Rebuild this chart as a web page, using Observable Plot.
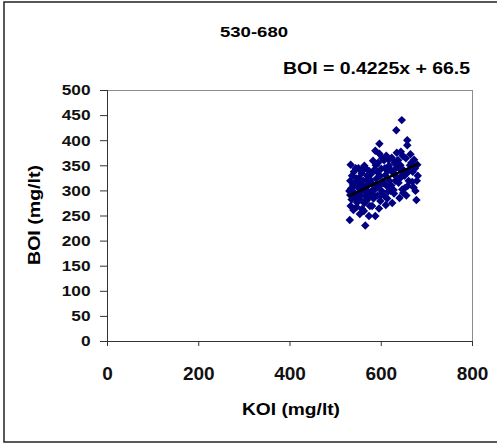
<!DOCTYPE html>
<html>
<head>
<meta charset="utf-8">
<script src="https://cdn.jsdelivr.net/npm/d3@7"></script>
<script src="https://cdn.jsdelivr.net/npm/@observablehq/plot@0.6"></script>
<style>
  html, body { margin: 0; padding: 0; background: #fff; }
  #chart { width: 497px; height: 446px; overflow: hidden; }
</style>
</head>
<body>
<div id="chart"></div>
<script>
// ---- data ----
const title = "530-680";
const equationText = "BOI = 0.4225x + 66.5";
const slope = 0.4225;
const intercept = 66.5;
const xLabel = "KOI (mg/lt)";
const yLabel = "BOI (mg/lt)";
const xTicks = [0, 200, 400, 600, 800];
const yTicks = [0, 50, 100, 150, 200, 250, 300, 350, 400, 450, 500];

const koi = [
  531,533,535,532,537,534,538,532,536,540,533,541,543,539,544,530,542,545,
  547,553,558,549,552,556,548,555,551,557,550,554,559,546,553,557,549,
  565,573,562,568,564,570,566,572,561,569,574,563,567,571,575,563,570,566,
  587,580,583,578,586,581,589,577,584,588,582,587,579,585,590,576,
  595,598,592,601,594,603,597,600,593,602,596,596,604,599,591,
  610,607,615,612,618,609,614,617,606,611,619,613,620,608,616,
  624,628,622,631,626,633,629,623,634,633,627,630,635,621,
  640,646,638,644,649,642,637,647,645,641,648,643,639,
  655,652,660,657,663,654,664,657,657,661,658,651,
  677,671,668,680,674,666,672,678,669,675,679
];
const boi = [
  242,270,283,292,298,305,312,320,330,338,352,287,316,262,345,300,296,325,
  277,254,264,287,292,300,308,318,326,335,345,298,310,268,283,340,315,
  231,250,260,281,290,298,304,313,320,330,339,350,309,286,270,276,322,345,
  250,270,285,294,303,314,324,333,341,351,360,380,300,290,312,322,
  265,280,291,300,309,319,330,344,356,365,374,394,315,292,338,
  272,290,299,310,320,331,340,350,361,370,305,285,300,345,362,
  276,295,311,320,336,346,356,366,376,421,302,331,360,341,
  286,303,316,329,341,351,361,370,441,325,296,378,345,
  291,306,320,336,351,365,373,391,401,340,310,330,
  282,307,318,330,345,356,362,320,338,300,352
];

const points = koi.map((k, i) => ({koi: k, boi: boi[i]}));
const xr = d3.extent(koi);
const trend = xr.map(x => ({koi: x, boi: slope * x + intercept}));

const plot = Plot.plot({
  width: 497,
  height: 446,
  marginLeft: 107,
  marginRight: 25,
  marginTop: 90,
  marginBottom: 105,
  style: {fontFamily: "'Liberation Sans', Arial, sans-serif", fontWeight: "bold", fontSize: "14px", background: "#fff", color: "#111"},
  x: {domain: [0, 800]},
  y: {domain: [0, 500]},
  marks: [
    Plot.ruleY([500], {stroke: "#8c8c8c", strokeWidth: 1}),
    Plot.ruleX([800], {stroke: "#8c8c8c", strokeWidth: 1}),
    Plot.axisY({ticks: yTicks, tickSize: 7, tickPadding: 10, label: null, fontSize: 15, stroke: "#333"}),
    Plot.axisX({ticks: xTicks, tickSize: 5, tickPadding: 20, label: null, fontSize: 19, stroke: "#333"}),
    Plot.ruleX([0], {stroke: "#333", strokeWidth: 1}),
    Plot.ruleY([0], {stroke: "#333", strokeWidth: 1}),
    Plot.dot(points, {x: "koi", y: "boi", symbol: "diamond2", r: 3.8, fill: "#000080", stroke: null}),
    Plot.line(trend, {x: "koi", y: "boi", stroke: "#000", strokeWidth: 2.5})
  ]
});

document.getElementById("chart").appendChild(plot);
const svg = d3.select(plot);

// outer border (right edge cut off in the reference)
svg.insert("rect", ":first-child")
  .attr("x", 4).attr("y", 2).attr("width", 510).attr("height", 440)
  .attr("fill", "none").attr("stroke", "#222").attr("stroke-width", 1.5);

function addText(txt, x, y, size, anchor, rotate) {
  const t = svg.append("text")
    .attr("x", x).attr("y", y)
    .attr("text-anchor", anchor)
    .attr("font-size", size)
    .attr("font-weight", "bold")
    .attr("fill", "#000")
    .text(txt);
  if (rotate) t.attr("transform", `rotate(${rotate},${x},${y})`);
  return t;
}
function stretchTo(sel, target) {
  sel.each(function() {
    this.setAttribute("textLength", target);
    this.setAttribute("lengthAdjust", "spacingAndGlyphs");
  });
}
function stretchBy(sel, factor) {
  sel.each(function() {
    const w = this.getComputedTextLength();
    this.setAttribute("textLength", w * factor);
    this.setAttribute("lengthAdjust", "spacingAndGlyphs");
  });
}

stretchTo(addText(title, 254, 37, 15, "middle"), 68);
stretchTo(addText(equationText, 470, 74, 16, "end"), 187);
stretchTo(addText(xLabel, 291, 415, 17, "middle"), 98);
stretchTo(addText(yLabel, 40, 215, 16, "middle", -90), 100);

stretchBy(svg.selectAll('g[aria-label="y-axis tick label"] text'), 1.15);
</script>
</body>
</html>
